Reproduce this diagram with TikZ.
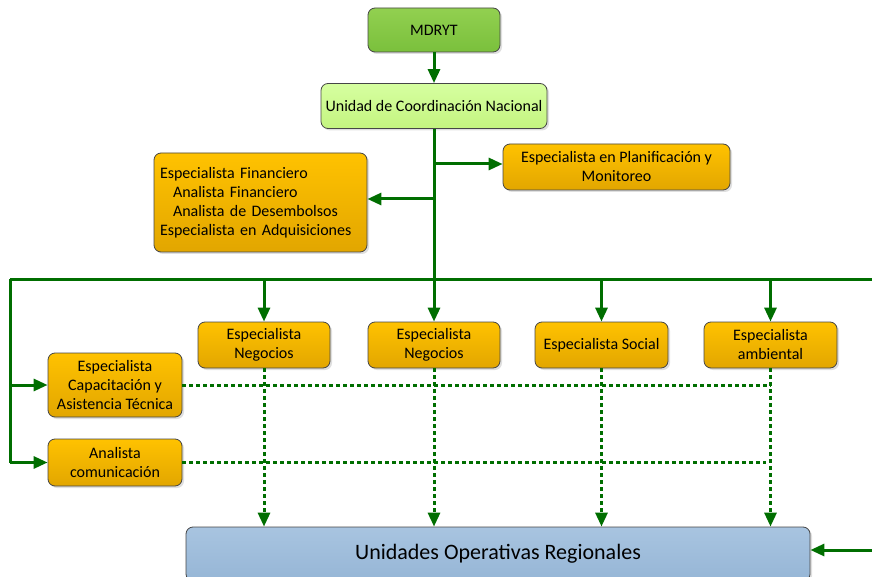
\documentclass[tikz,border=0pt]{standalone}
\usepackage{fontspec}
\setmainfont{Carlito}
\usetikzlibrary{arrows.meta,shadows,calc}
\definecolor{lnk}{RGB}{0,110,0}
\definecolor{boxline}{RGB}{70,70,70}
\definecolor{orTop}{RGB}{255,194,0}
\definecolor{orBot}{RGB}{226,166,0}
\definecolor{gTop}{RGB}{146,208,80}
\definecolor{gBot}{RGB}{122,192,60}
\definecolor{lgTop}{RGB}{214,255,160}
\definecolor{lgBot}{RGB}{196,244,128}
\definecolor{bTop}{RGB}{168,196,224}
\definecolor{bBot}{RGB}{150,182,214}
\tikzset{
  base/.style={draw=boxline, line width=0.8pt, rounded corners=7pt, align=center,
     font=\fontsize{16}{19}\selectfont, inner sep=0pt,
     drop shadow={shadow xshift=2pt, shadow yshift=-2pt, opacity=0.25}},
  orange/.style={base, top color=orTop, bottom color=orBot},
  conn/.style={draw=lnk, line width=3pt, -{Triangle[length=14pt,width=12pt]}},
  bus/.style={draw=lnk, line width=3pt},
  dconn/.style={draw=lnk, line width=3pt, dash pattern=on 4pt off 3pt, -{Triangle[length=14pt,width=12pt]}},
  dline/.style={draw=lnk, line width=3pt, dash pattern=on 4pt off 3pt},
}
\begin{document}
\begin{tikzpicture}[x=1pt,y=-1pt]
\useasboundingbox (0,0) rectangle (872,577);
\node[base, top color=gTop, bottom color=gBot, minimum width=132pt, minimum height=44pt] (mdryt) at (434,30) {MDRYT};
\node[base, top color=lgTop, bottom color=lgBot, minimum width=226pt, minimum height=45pt] (ucn) at (434,106) {Unidad de Coordinación Nacional};
\node[orange, minimum width=213pt, minimum height=99pt, align=left, text width=201pt] (fin) at (260.5,202.5) {Especialista Financiero\\\hspace*{13pt}Analista Financiero\\\hspace*{13pt}Analista de Desembolsos\\Especialista en Adquisiciones};
\node[orange, minimum width=227pt, minimum height=46pt] (plan) at (616.5,167) {Especialista en Planificación y\\Monitoreo};
\node[orange, minimum width=132pt, minimum height=46pt] (neg1) at (264,345) {Especialista\\Negocios};
\node[orange, minimum width=132pt, minimum height=46pt] (neg2) at (434,345) {Especialista\\Negocios};
\node[orange, minimum width=133pt, minimum height=46pt] (soc) at (601.5,345) {Especialista Social};
\node[orange, minimum width=133pt, minimum height=46pt] (amb) at (770.5,345) {Especialista\\ambiental};
\node[orange, minimum width=134pt, minimum height=64pt] (cap) at (115,385) {Especialista\\Capacitación y\\Asistencia Técnica};
\node[orange, minimum width=134pt, minimum height=47pt] (com) at (115,462.5) {Analista\\comunicación};
\node[base, top color=bTop, bottom color=bBot, minimum width=624pt, minimum height=54pt, font=\fontsize{22}{26}\selectfont] (uor) at (498,554) {Unidades Operativas Regionales};
% coordinates
\coordinate (busL) at (10,279);
\coordinate (busR) at (872,279);
\coordinate (bp) at (434,164);
\coordinate (bf) at (434,199);
\coordinate (rin) at (872,550);
% solid connectors
\draw[conn] (mdryt) -- (ucn);
\draw[conn] (ucn.south) -- (neg2.north);
\draw[bus] (busL) -- (busR);
\draw[conn] (bp) -- (plan.west |- bp);
\draw[conn] (bf) -- (fin.east |- bf);
\draw[conn] (neg1.north |- busL) -- (neg1.north);
\draw[conn] (soc.north |- busL) -- (soc.north);
\draw[conn] (amb.north |- busL) -- (amb.north);
\draw[conn, rounded corners=0pt] (busL) |- (cap.west);
\draw[conn] (busL |- com.west) -- (com.west);
\draw[bus] (busL) -- (busL |- com.west);
\draw[conn] (rin) -- (uor.east |- rin);
% dashed
\draw[dline] (cap.east) -- (amb.south |- cap.east);
\draw[dline] (com.east) -- ($(amb.south |- com.east)+(-5,0)$);
\draw[dconn] (neg1.south) -- (neg1.south |- uor.north);
\draw[dconn] (neg2.south) -- (neg2.south |- uor.north);
\draw[dconn] (soc.south) -- (soc.south |- uor.north);
\draw[dconn] (amb.south) -- (amb.south |- uor.north);
\end{tikzpicture}
\end{document}
